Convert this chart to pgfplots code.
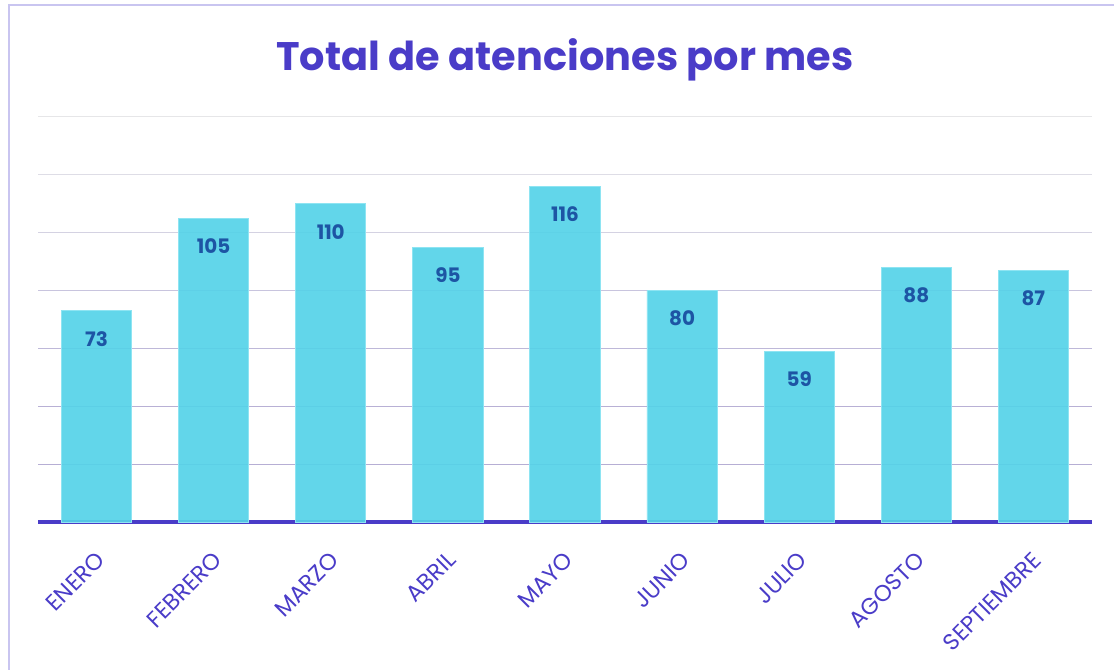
\documentclass[border=0pt]{standalone}
\usepackage{pgfplots}
\pgfplotsset{compat=1.18}
\usepackage{fontspec}
\setmainfont{Poppins}
\definecolor{titlec}{HTML}{4A3CC8}
\definecolor{barc}{HTML}{55D2E8}
\definecolor{bard}{HTML}{8EE4F2}
\definecolor{valc}{HTML}{1D55A4}
\definecolor{framec}{HTML}{C9C5F0}
\definecolor{g1}{HTML}{B6AED4}
\definecolor{g2}{HTML}{B8B0D5}
\definecolor{g3}{HTML}{BEB8D9}
\definecolor{g4}{HTML}{C8C4DE}
\definecolor{g5}{HTML}{D4D2E2}
\definecolor{g6}{HTML}{DEDDE6}
\definecolor{g7}{HTML}{E6E6E8}
\begin{document}
\begin{tikzpicture}
\path[use as bounding box] (0bp,0bp) rectangle (1114bp,670bp);
\draw[color=framec, line width=2.5bp] (9bp,-5bp) -- (9bp,665bp) -- (1120bp,665bp);
\node[font=\bfseries\fontsize{40}{44}\selectfont, text=titlec] at (565bp,610bp) {Total de atenciones por mes};
\begin{axis}[
  at={(38bp,148bp)}, anchor=south west,
  scale only axis, width=1054bp, height=405bp,
  xmin=-0.5, xmax=8.5, ymin=0, ymax=140,
  axis x line=bottom, axis y line=none,
  x axis line style={line width=3bp, color=titlec, -},
  xtick=data,
  xticklabels={ENERO,FEBRERO,MARZO,ABRIL,MAYO,JUNIO,JULIO,AGOSTO,SEPTIEMBRE},
  xtick style={draw=none},
  xticklabel style={rotate=45, anchor=east, yshift=-24bp, xshift=-15bp, font=\fontsize{23}{25}\selectfont, text=titlec},
  ybar, bar width=0.6,
  /pgf/number format/assume math mode=true,
  nodes near coords,
  every node near coord/.append style={anchor=center, yshift=-28bp, font=\bfseries\fontsize{20}{22}\selectfont, text=valc},
  clip=false,
]
\draw[g1, line width=1bp] (axis cs:-0.5,20) -- (axis cs:8.5,20);
\draw[g2, line width=1bp] (axis cs:-0.5,40) -- (axis cs:8.5,40);
\draw[g3, line width=1bp] (axis cs:-0.5,60) -- (axis cs:8.5,60);
\draw[g4, line width=1bp] (axis cs:-0.5,80) -- (axis cs:8.5,80);
\draw[g5, line width=1bp] (axis cs:-0.5,100) -- (axis cs:8.5,100);
\draw[g6, line width=1bp] (axis cs:-0.5,120) -- (axis cs:8.5,120);
\draw[g7, line width=1bp] (axis cs:-0.5,140) -- (axis cs:8.5,140);
\addplot[fill=barc, fill opacity=0.92, draw=bard, line width=0.8bp, text opacity=1] coordinates {
(0,73) (1,105) (2,110) (3,95) (4,116) (5,80) (6,59) (7,88) (8,87)
};
\end{axis}
\end{tikzpicture}
\end{document}
